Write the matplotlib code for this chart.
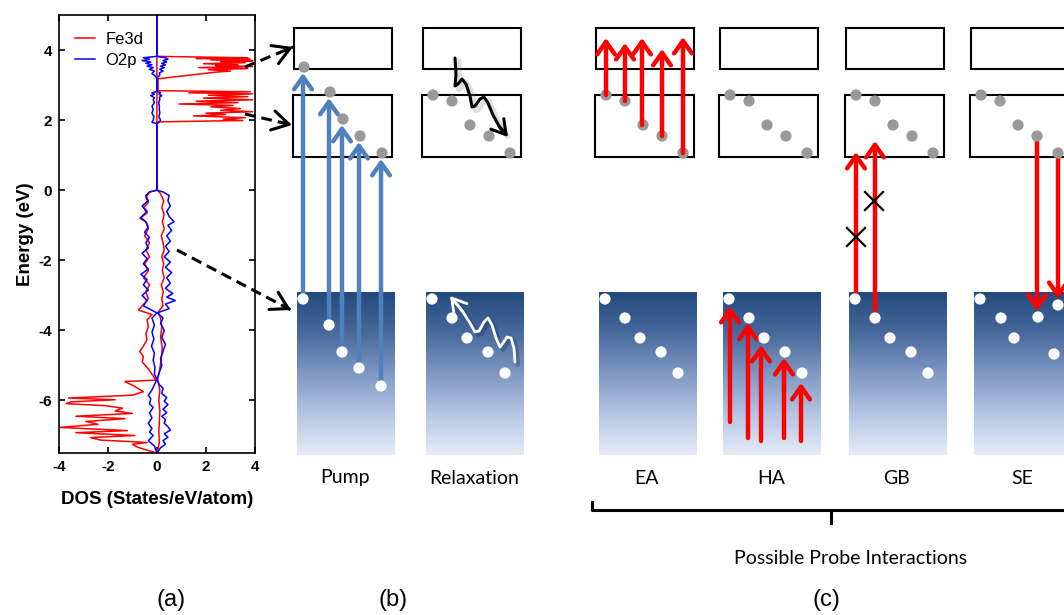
import numpy as np
import matplotlib
matplotlib.use('Agg')
import matplotlib.pyplot as plt
from matplotlib.patches import Rectangle, Circle
from matplotlib.colors import LinearSegmentedColormap
import matplotlib.patheffects as pe

plt.rcParams['axes.unicode_minus'] = False

# ---------------- DOS data, panel (a): (energy eV, DOS) ----------------
fe3d_up = [(5.0, 0.0), (3.82, 0.0), (3.78, 3.7), (3.76, 1.6), (3.74, 3.8), (3.72, 2.2),
           (3.69, 3.9), (3.67, 2.6), (3.64, 3.6), (3.61, 1.9), (3.58, 3.3), (3.56, 2.4),
           (3.53, 3.9), (3.50, 1.7), (3.47, 3.7), (3.44, 2.1), (3.40, 3.0), (3.37, 2.4),
           (3.18, 0.05), (2.84, 0.05), (2.81, 3.8), (2.78, 1.3), (2.75, 3.9), (2.71, 2.1),
           (2.67, 3.7), (2.63, 1.9), (2.58, 3.9), (2.54, 1.6), (2.50, 3.3), (2.46, 0.9),
           (2.42, 3.1), (2.38, 2.2), (2.33, 3.4), (2.28, 2.6), (2.24, 3.9), (2.20, 2.0),
           (2.16, 2.8), (2.12, 1.5), (2.07, 3.6), (2.03, 2.7), (1.99, 3.5), (1.95, 0.05),
           (1.90, 0.0), (0.02, 0.0), (-0.10, 0.15), (-0.30, 0.28), (-0.50, 0.2), (-0.70, 0.3),
           (-0.90, 0.22), (-1.10, 0.3), (-1.30, 0.18), (-1.50, 0.25), (-1.70, 0.3), (-1.90, 0.2),
           (-2.10, 0.28), (-2.30, 0.22), (-2.50, 0.3), (-2.70, 0.18), (-2.90, 0.26), (-3.10, 0.2),
           (-3.30, 0.25), (-3.48, 0.05), (-3.65, 0.15), (-3.90, 0.2), (-4.20, 0.15), (-4.50, 0.22),
           (-4.80, 0.18), (-5.10, 0.12), (-5.40, 0.03), (-5.70, 0.12), (-6.00, 0.08), (-6.30, 0.12),
           (-6.60, 0.1), (-6.90, 0.08), (-7.20, 0.1), (-7.50, 0.0)]

fe3d_dn = [(5.0, 0.0), (0.0, 0.0), (-0.05, -0.3), (-0.2, -0.45), (-0.35, -0.35), (-0.5, -0.55),
           (-0.65, -0.4), (-0.8, -0.7), (-0.9, -0.45), (-1.1, -0.35), (-1.3, -0.5), (-1.5, -0.3),
           (-1.7, -0.45), (-1.9, -0.3), (-2.1, -0.5), (-2.3, -0.35), (-2.5, -0.55), (-2.7, -0.3),
           (-2.9, -0.45), (-3.1, -0.35), (-3.3, -0.6), (-3.42, -0.75), (-3.55, -0.2), (-3.7, -0.4),
           (-3.9, -0.35), (-4.1, -0.45), (-4.26, -0.4), (-4.45, -0.55), (-4.6, -0.7), (-4.75, -0.55),
           (-4.9, -0.6), (-5.1, -0.35), (-5.3, -0.15), (-5.42, -0.05), (-5.46, -1.3), (-5.6, -0.9),
           (-5.75, -0.55), (-5.85, -1.0), (-5.93, -3.6), (-5.98, -1.7), (-6.04, -3.5), (-6.09, -3.7),
           (-6.15, -2.1), (-6.22, -1.4), (-6.3, -1.7), (-6.37, -1.0), (-6.45, -3.3), (-6.52, -1.3),
           (-6.6, -2.9), (-6.68, -2.4), (-6.77, -3.95), (-6.86, -1.2), (-6.92, -3.3), (-7.0, -0.9),
           (-7.06, -2.7), (-7.13, -2.3), (-7.2, -0.4), (-7.25, -1.0), (-7.33, -0.8), (-7.42, -0.4),
           (-7.5, 0.0)]

o2p_up = [(5.0, 0.0), (3.82, 0.0), (3.78, 0.35), (3.74, 0.45), (3.70, 0.25), (3.66, 0.4),
          (3.62, 0.2), (3.58, 0.35), (3.54, 0.15), (3.50, 0.3), (3.45, 0.12), (3.40, 0.25),
          (3.35, 0.1), (3.28, 0.12), (3.22, 0.03), (3.18, 0.0), (2.82, 0.0), (2.78, 0.15),
          (2.74, 0.08), (2.70, 0.2), (2.65, 0.1), (2.60, 0.12), (2.50, 0.08), (2.40, 0.1),
          (2.30, 0.1), (2.20, 0.12), (2.10, 0.08), (2.00, 0.15), (1.95, 0.1), (1.90, 0.0),
          (0.0, 0.0), (-0.05, 0.25), (-0.15, 0.5), (-0.3, 0.45), (-0.45, 0.55), (-0.6, 0.4),
          (-0.75, 0.5), (-0.9, 0.7), (-1.0, 0.45), (-1.15, 0.6), (-1.3, 0.4), (-1.45, 0.55),
          (-1.6, 0.35), (-1.75, 0.5), (-1.9, 0.3), (-2.05, 0.55), (-2.2, 0.35), (-2.35, 0.6),
          (-2.5, 0.4), (-2.65, 0.55), (-2.8, 0.35), (-2.95, 0.65), (-3.05, 0.4), (-3.15, 0.75),
          (-3.25, 0.35), (-3.38, 0.5), (-3.5, 0.02), (-3.65, 0.25), (-3.8, 0.15), (-4.0, 0.3),
          (-4.2, 0.2), (-4.4, 0.35), (-4.6, 0.25), (-4.8, 0.15), (-5.0, 0.2), (-5.2, 0.1),
          (-5.4, 0.0), (-5.55, 0.1), (-5.65, 0.25), (-5.8, 0.2), (-5.92, 0.4), (-6.02, 0.3),
          (-6.12, 0.45), (-6.25, 0.25), (-6.35, 0.4), (-6.45, 0.2), (-6.55, 0.35), (-6.65, 0.3),
          (-6.75, 0.45), (-6.85, 0.55), (-6.95, 0.3), (-7.05, 0.45), (-7.15, 0.25), (-7.25, 0.35),
          (-7.35, 0.15), (-7.5, 0.0)]

o2p_dn = [(5.0, 0.0), (3.82, 0.0), (3.78, -0.55), (3.74, -0.3), (3.70, -0.6), (3.66, -0.25),
          (3.62, -0.45), (3.58, -0.2), (3.54, -0.4), (3.50, -0.15), (3.45, -0.3), (3.40, -0.1),
          (3.33, -0.2), (3.25, -0.05), (3.18, 0.0), (2.82, 0.0), (2.78, -0.2), (2.74, -0.1),
          (2.70, -0.25), (2.64, -0.1), (2.58, -0.15), (2.50, -0.1), (2.40, -0.2), (2.30, -0.15),
          (2.20, -0.2), (2.10, -0.12), (2.00, -0.15), (1.94, -0.2), (1.90, 0.0), (0.0, 0.0),
          (-0.05, -0.3), (-0.15, -0.45), (-0.3, -0.35), (-0.45, -0.6), (-0.6, -0.4), (-0.78, -0.65),
          (-0.9, -0.45), (-1.05, -0.35), (-1.2, -0.5), (-1.35, -0.3), (-1.5, -0.45), (-1.65, -0.35),
          (-1.8, -0.6), (-1.95, -0.4), (-2.1, -0.55), (-2.25, -0.35), (-2.4, -0.65), (-2.55, -0.4),
          (-2.7, -0.55), (-2.85, -0.35), (-3.0, -0.6), (-3.15, -0.4), (-3.3, -0.55), (-3.5, 0.0),
          (-3.65, -0.2), (-3.85, -0.1), (-4.05, -0.2), (-4.25, -0.12), (-4.45, -0.22), (-4.65, -0.1),
          (-4.85, -0.15), (-5.05, -0.08), (-5.25, -0.1), (-5.4, 0.0), (-5.55, -0.1), (-5.7, -0.2),
          (-5.85, -0.35), (-5.95, -0.25), (-6.1, -0.3), (-6.2, -0.15), (-6.35, -0.3), (-6.5, -0.2),
          (-6.65, -0.35), (-6.8, -0.2), (-6.9, -0.3), (-7.0, -0.15), (-7.15, -0.35), (-7.3, -0.1),
          (-7.5, 0.0)]

# ---------------- schematic content, panels (b) and (c) ----------------
column_names = ['Pump', 'Relaxation', 'EA', 'HA', 'GB', 'SE']
column_x = [294, 423, 596, 720, 846, 971]  # left edge of each upper box (px)

# default electron (grey) and hole (white) positions, relative to column_x
grey_dx = [10, 29, 47, 66, 87]
grey_y = [95, 101, 125, 136, 153]
white_dx = [9, 29, 44, 65, 82]
white_y = [299, 318, 338, 352, 373]

# pump: holes and excited electrons
pump_white_x = [303, 329, 342, 359, 381]
pump_white_y = [299, 325, 352, 368, 386]
pump_grey_x = [304, 330, 343, 360, 382]
pump_grey_y = [67, 92, 119, 136, 153]

# SE holes (two refilled by stimulated emission)
se_white_x = [980, 1001, 1014, 1038, 1054, 1058]
se_white_y = [299, 318, 338, 317, 354, 305]

# probe arrows: (x, y_start, y_end)
ea_arrows = [(606, 95, 38), (625, 101, 43), (642, 125, 38), (662, 136, 49), (683, 153, 37)]
ha_arrows = [(730, 422, 306), (748, 438, 323), (761, 441, 345), (784, 438, 358), (801, 441, 383)]
gb_arrows = [(856, 299, 152), (875, 312, 141)]
se_arrows = [(1037, 136, 311), (1058, 153, 299)]
gb_crosses = [(856, 237), (874, 201)]

# relaxation squiggles
hot_e_x = [455, 456, 455, 458, 462, 466, 470, 472, 475, 480, 484, 488, 493, 499, 504, 508]
hot_e_y = [58, 75, 86, 84, 79, 84, 96, 107, 106, 99, 97, 103, 115, 126, 133, 137]
hot_h_x = [515, 514, 511, 507, 503, 500, 496, 492, 488, 484, 479, 475, 470, 463, 456, 450]
hot_h_y = [362, 348, 338, 337, 343, 347, 338, 325, 318, 322, 331, 332, 323, 312, 303, 296]

# dashed pointers from DOS to bands: (x0, y0, x1, y1)
pointers = [(245, 67, 293, 47), (245, 114, 292, 125), (177, 250, 291, 310)]

panel_labels = ['(a)', '(b)', '(c)']
panel_label_x = [171, 393, 826]

# ---------------- figure ----------------
fig = plt.figure(figsize=(10.64, 6.15), dpi=100)

ax = fig.add_axes([0.0552, 0.2634, 0.1845, 0.7122])
E, d = zip(*fe3d_up)
ax.plot(d, E, color='red', lw=1.1, label='Fe3d')
E, d = zip(*fe3d_dn)
ax.plot(d, E, color='red', lw=1.1)
E, d = zip(*o2p_up)
ax.plot(d, E, color='blue', lw=1.1, label='O2p')
E, d = zip(*o2p_dn)
ax.plot(d, E, color='blue', lw=1.1)
ax.set_xlim(-4, 4)
ax.set_ylim(-7.5, 5)
ax.set_xticks([-4, -2, 0, 2, 4])
ax.set_yticks([-6, -4, -2, 0, 2, 4])
ax.tick_params(direction='in', top=True, right=True, length=4, width=1.2, labelsize=11, pad=5)
for lab in ax.get_xticklabels() + ax.get_yticklabels():
    lab.set_fontweight('bold')
    lab.set_family('Liberation Sans')
for sp in ax.spines.values():
    sp.set_linewidth(1.2)
ax.set_xlabel('DOS (States/eV/atom)', fontsize=13.5, fontweight='bold', family='Liberation Sans', labelpad=12)
ax.set_ylabel('Energy (eV)', fontsize=13.5, fontweight='bold', family='Liberation Sans', labelpad=3)
ax.legend(loc='upper left', frameon=False, prop={'family': 'Liberation Sans', 'size': 12},
          handlelength=1.2, handletextpad=0.6, borderaxespad=0.6, labelspacing=0.35)

# overlay in pixel coordinates
ov = fig.add_axes([0, 0, 1, 1])
ov.patch.set_alpha(0)
ov.axis('off')

cmap = LinearSegmentedColormap.from_list('vb', ['#234a7e', '#48699c', '#7f98c3', '#b5c5e4', '#e6ecf8'])
grad = np.linspace(0, 1, 256).reshape(-1, 1)

for name, x0 in zip(column_names, column_x):
    ov.add_patch(Rectangle((x0, 28), 98, 41, fill=True, fc='white', ec='black', lw=1.5, zorder=2))
    ov.add_patch(Rectangle((x0 - 1, 95), 99, 62, fill=True, fc='white', ec='black', lw=1.5, zorder=2))
    ov.imshow(grad, cmap=cmap, extent=(x0 + 3, x0 + 101, 455, 292), origin='upper',
              aspect='auto', zorder=1)
    ov.text(x0 + 51, 478, name, ha='center', va='center', fontsize=14, family='Lato')

def dot(x, y, c):
    ov.add_patch(Circle((x, y), 5.6, color=c, zorder=6, lw=0))

def arrow(x, y0, y1, c, z=5):
    ov.annotate('', xy=(x, y1), xytext=(x, y0),
                arrowprops=dict(arrowstyle='->, head_length=0.45, head_width=0.32', color=c, lw=3.2,
                                shrinkA=0, shrinkB=0, mutation_scale=20), zorder=z)

grey = '#999999'
for name, x0 in zip(column_names, column_x):
    if name == 'Pump':
        continue
    for dx, y in zip(grey_dx, grey_y):
        dot(x0 + dx, y, grey)
    if name == 'SE':
        continue
    for dx, y in zip(white_dx, white_y):
        dot(x0 + dx, y, 'white')

for x, y in zip(pump_grey_x, pump_grey_y):
    dot(x, y, grey)
for x, y in zip(pump_white_x, pump_white_y):
    dot(x, y, 'white')
for x, y in zip(se_white_x, se_white_y):
    dot(x, y, 'white')

for x0, y0, x1, y1 in zip(pump_white_x, pump_white_y, pump_grey_x, pump_grey_y):
    arrow(x0, y0, y1 + 6, '#4f81bd')

for x, y0, y1 in ea_arrows:
    arrow(x, y0, y1, 'red', z=7)
for x, y0, y1 in ha_arrows + gb_arrows + se_arrows:
    arrow(x, y0, y1, 'red')

for x, y in gb_crosses:
    ov.plot([x - 9, x + 9], [y - 9, y + 9], color='black', lw=1.6, zorder=8)
    ov.plot([x - 9, x + 9], [y + 9, y - 9], color='black', lw=1.6, zorder=8)

# relaxation squiggles
ov.plot(hot_e_x[:-1], hot_e_y[:-1], color='black', lw=2.2, zorder=8, solid_capstyle='round',
        path_effects=[pe.SimpleLineShadow(offset=(2.5, -2.5), shadow_color='gray', alpha=0.25, linewidth=4),
                      pe.Normal()])
ov.annotate('', xy=(hot_e_x[-1], hot_e_y[-1]), xytext=(hot_e_x[-3], hot_e_y[-3]),
            arrowprops=dict(arrowstyle='->, head_length=0.5, head_width=0.3', color='black', lw=2.2,
                            shrinkA=0, shrinkB=0, mutation_scale=20), zorder=8)
ov.plot(hot_h_x[:-1], hot_h_y[:-1], color='white', lw=2.0, zorder=8, solid_capstyle='round',
        path_effects=[pe.SimpleLineShadow(offset=(2, -2), shadow_color='#10284a', alpha=0.3, linewidth=3),
                      pe.Normal()])
ov.annotate('', xy=(hot_h_x[-1], hot_h_y[-1]), xytext=(hot_h_x[-3], hot_h_y[-3]),
            arrowprops=dict(arrowstyle='->, head_length=0.5, head_width=0.3', color='white', lw=2.0,
                            shrinkA=0, shrinkB=0, mutation_scale=20), zorder=8)

# dashed pointers from DOS plot
for x0, y0, x1, y1 in pointers:
    ov.plot([x0, x1], [y0, y1], color='black', lw=2.2, ls=(0, (3.5, 2)), zorder=9)
    ux, uy = (x1 - x0), (y1 - y0)
    n = np.hypot(ux, uy)
    ov.annotate('', xy=(x1, y1), xytext=(x1 - 8 * ux / n, y1 - 8 * uy / n),
                arrowprops=dict(arrowstyle='->, head_length=0.6, head_width=0.35', color='black', lw=2.2,
                                shrinkA=0, shrinkB=0, mutation_scale=20), zorder=9)

# bracket for probe interactions
ov.plot([592, 592, 1064], [502, 510, 510], color='black', lw=2.2, zorder=3)
ov.plot([831, 831], [510, 523], color='black', lw=2.2, zorder=3)
ov.text(851, 558, 'Possible Probe Interactions', ha='center', va='center', fontsize=14, family='Lato')

for lab, x in zip(panel_labels, panel_label_x):
    ov.text(x, 600, lab, ha='center', va='center', fontsize=17, family='Liberation Sans')

ov.set_xlim(0, 1064)
ov.set_ylim(615, 0)

fig.savefig('out.png', dpi=100)
